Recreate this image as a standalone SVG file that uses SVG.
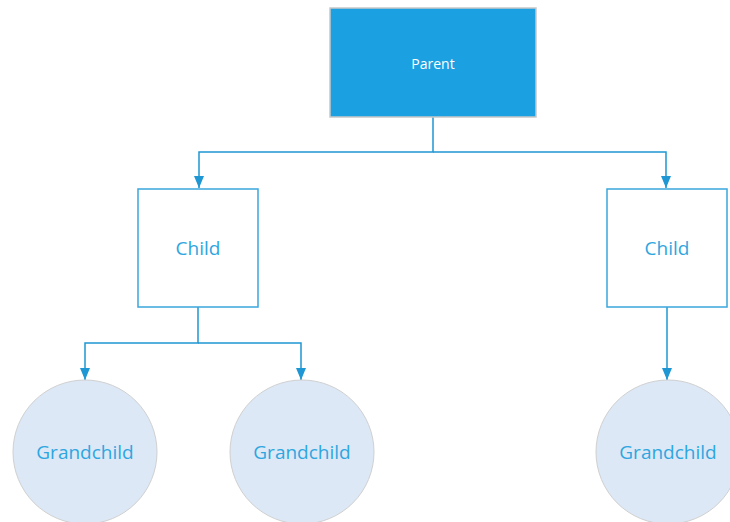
<svg xmlns="http://www.w3.org/2000/svg" width="730" height="522" viewBox="0 0 730 522">
  <style>
    .parent { fill: #1ba1e2; stroke: #c8c8c8; stroke-width: 1.5; }
    .child { fill: #ffffff; stroke: #3aa6dd; stroke-width: 1.5; }
    .gc { fill: #dce8f6; stroke: #d0d0d0; stroke-width: 1; }
    .lbl { font-family: "Open Sans", "Noto Sans", sans-serif; text-anchor: middle; dominant-baseline: central; }
    .lbl-p { fill: #ffffff; font-size: 14px; }
    .lbl-c { fill: #2ea6e0; font-size: 19px; }
    .edge { fill: none; stroke: #1f97d4; stroke-width: 1.5; }
  </style>
  <defs>
    <marker id="arrow" viewBox="0 0 12 10" refX="12" refY="5" markerUnits="userSpaceOnUse" markerWidth="12" markerHeight="10" orient="auto">
      <path d="M0,0 L12,5 L0,10 Z" fill="#1f97d4"/>
    </marker>
  </defs>

  <g id="connectors">
    <path class="edge" d="M433,117 V152 H199 V188" marker-end="url(#arrow)"/>
    <path class="edge" d="M433,152 H666 V188" marker-end="url(#arrow)"/>
    <path class="edge" d="M198,307 V343 H85 V380" marker-end="url(#arrow)"/>
    <path class="edge" d="M198,343 H301 V380" marker-end="url(#arrow)"/>
    <path class="edge" d="M667,307 V380" marker-end="url(#arrow)"/>
  </g>

  <g id="parent">
    <rect class="parent" x="330" y="8" width="206" height="109"/>
    <text class="lbl lbl-p" x="433" y="63">Parent</text>
  </g>

  <g id="child-left">
    <rect class="child" x="138" y="189" width="120" height="118"/>
    <text class="lbl lbl-c" x="198" y="248">Child</text>
  </g>

  <g id="child-right">
    <rect class="child" x="607" y="189" width="120" height="118"/>
    <text class="lbl lbl-c" x="667" y="248">Child</text>
  </g>

  <g id="grandchild-1">
    <circle class="gc" cx="85" cy="452" r="72"/>
    <text class="lbl lbl-c" x="85" y="452">Grandchild</text>
  </g>

  <g id="grandchild-2">
    <circle class="gc" cx="302" cy="452" r="72"/>
    <text class="lbl lbl-c" x="302" y="452">Grandchild</text>
  </g>

  <g id="grandchild-3">
    <circle class="gc" cx="668" cy="452" r="72"/>
    <text class="lbl lbl-c" x="668" y="452">Grandchild</text>
  </g>
</svg>
